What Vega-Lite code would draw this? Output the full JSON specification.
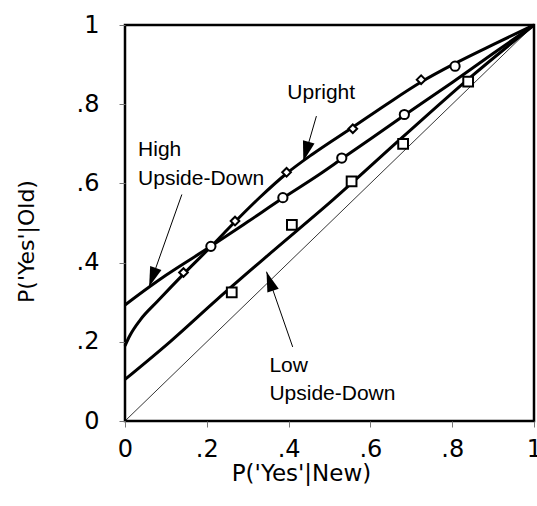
{
  "$schema": "https://vega.github.io/schema/vega-lite/v6.json",
  "width": 409,
  "height": 396,
  "autosize": {"type": "none"},
  "padding": {"left": 125, "top": 25, "right": 3, "bottom": 85},
  "background": "white",
  "config": {
    "font": "Liberation Sans",
    "view": {"stroke": "black", "strokeWidth": 2.5}
  },
  "datasets": {
    "diag": [{"x": 0, "y": 0}, {"x": 1, "y": 1}],
    "curves": [
      {"series": "Upright", "x": 0, "y": 0.19},
      {"series": "Upright", "x": 0.012, "y": 0.216},
      {"series": "Upright", "x": 0.037, "y": 0.255},
      {"series": "Upright", "x": 0.08, "y": 0.303},
      {"series": "Upright", "x": 0.143, "y": 0.371},
      {"series": "Upright", "x": 0.21, "y": 0.44},
      {"series": "Upright", "x": 0.269, "y": 0.503},
      {"series": "Upright", "x": 0.33, "y": 0.565},
      {"series": "Upright", "x": 0.395, "y": 0.625},
      {"series": "Upright", "x": 0.46, "y": 0.675},
      {"series": "Upright", "x": 0.557, "y": 0.742},
      {"series": "Upright", "x": 0.64, "y": 0.8},
      {"series": "Upright", "x": 0.724, "y": 0.856},
      {"series": "Upright", "x": 0.807, "y": 0.903},
      {"series": "Upright", "x": 0.905, "y": 0.953},
      {"series": "Upright", "x": 1, "y": 1},
      {"series": "High Upside-Down", "x": 0, "y": 0.293},
      {"series": "High Upside-Down", "x": 0.06, "y": 0.339},
      {"series": "High Upside-Down", "x": 0.1, "y": 0.368},
      {"series": "High Upside-Down", "x": 0.21, "y": 0.441},
      {"series": "High Upside-Down", "x": 0.3, "y": 0.503},
      {"series": "High Upside-Down", "x": 0.386, "y": 0.563},
      {"series": "High Upside-Down", "x": 0.474, "y": 0.622},
      {"series": "High Upside-Down", "x": 0.53, "y": 0.662},
      {"series": "High Upside-Down", "x": 0.6, "y": 0.712},
      {"series": "High Upside-Down", "x": 0.683, "y": 0.772},
      {"series": "High Upside-Down", "x": 0.8, "y": 0.855},
      {"series": "High Upside-Down", "x": 0.9, "y": 0.928},
      {"series": "High Upside-Down", "x": 1, "y": 1},
      {"series": "Low Upside-Down", "x": 0, "y": 0.105},
      {"series": "Low Upside-Down", "x": 0.11, "y": 0.2},
      {"series": "Low Upside-Down", "x": 0.224, "y": 0.306},
      {"series": "Low Upside-Down", "x": 0.35, "y": 0.419},
      {"series": "Low Upside-Down", "x": 0.509, "y": 0.559},
      {"series": "Low Upside-Down", "x": 0.68, "y": 0.718},
      {"series": "Low Upside-Down", "x": 0.84, "y": 0.864},
      {"series": "Low Upside-Down", "x": 1, "y": 1}
    ],
    "points": [
      {"series": "Upright", "x": 0.143, "y": 0.375},
      {"series": "Upright", "x": 0.269, "y": 0.505},
      {"series": "Upright", "x": 0.395, "y": 0.628},
      {"series": "Upright", "x": 0.557, "y": 0.738},
      {"series": "Upright", "x": 0.724, "y": 0.862},
      {"series": "High Upside-Down", "x": 0.21, "y": 0.441},
      {"series": "High Upside-Down", "x": 0.386, "y": 0.564},
      {"series": "High Upside-Down", "x": 0.53, "y": 0.664},
      {"series": "High Upside-Down", "x": 0.683, "y": 0.774},
      {"series": "High Upside-Down", "x": 0.807, "y": 0.896},
      {"series": "Low Upside-Down", "x": 0.261, "y": 0.325},
      {"series": "Low Upside-Down", "x": 0.408, "y": 0.495},
      {"series": "Low Upside-Down", "x": 0.554, "y": 0.605},
      {"series": "Low Upside-Down", "x": 0.68, "y": 0.7},
      {"series": "Low Upside-Down", "x": 0.839, "y": 0.857}
    ],
    "arrows": [
      {"arrow": "Upright", "x1": 0.468, "y1": 0.77, "x2": 0.436, "y2": 0.656},
      {"arrow": "High", "x1": 0.139, "y1": 0.572, "x2": 0.059, "y2": 0.339},
      {"arrow": "Low", "x1": 0.41, "y1": 0.187, "x2": 0.346, "y2": 0.377}
    ],
    "labels": [
      {"label": "Upright", "x": 0.397, "y": 0.812},
      {"label": "High", "x": 0.032, "y": 0.668},
      {"label": "Upside-Down", "x": 0.032, "y": 0.597},
      {"label": "Low", "x": 0.353, "y": 0.124},
      {"label": "Upside-Down", "x": 0.353, "y": 0.053}
    ]
  },
  "layer": [
    {
      "data": {"name": "diag"},
      "mark": {"type": "line", "color": "black", "strokeWidth": 0.8},
      "encoding": {
        "x": {
          "field": "x", "type": "quantitative",
          "scale": {"domain": [0, 1], "nice": false, "zero": false},
          "axis": {
            "values": [0, 0.2, 0.4, 0.6, 0.8, 1],
            "labelExpr": "datum.value == 0 ? '0' : datum.value == 1 ? '1' : replace(format(datum.value, '.1f'), '0.', '.')",
            "domain": false,
            "grid": false,
            "labelFont": "DejaVu Sans",
            "labelFontSize": 24,
            "labelColor": "black",
            "labelFlush": false,
            "labelOverlap": false,
            "labelBaseline": "top",
            "labelPadding": 10,
            "labelDx": -4,
            "tickColor": "#777777",
            "tickWidth": 1,
            "tickSize": 6,
            "title": "P('Yes'|New)",
            "titleFont": "DejaVu Sans",
            "titleFontSize": 23,
            "titleFontWeight": "normal",
            "titleColor": "black",
            "titleX": 176,
            "titleY": 59,
            "titleAlign": "center",
            "titleBaseline": "alphabetic",
            "titleAnchor": null
          }
        },
        "y": {
          "field": "y", "type": "quantitative",
          "scale": {"domain": [0, 1], "nice": false, "zero": false},
          "axis": {
            "values": [0, 0.2, 0.4, 0.6, 0.8, 1],
            "labelExpr": "datum.value == 0 ? '0' : datum.value == 1 ? '1' : replace(format(datum.value, '.1f'), '0.', '.')",
            "domain": false,
            "grid": false,
            "labelFont": "DejaVu Sans",
            "labelFontSize": 24,
            "labelColor": "black",
            "labelFlush": false,
            "labelOverlap": false,
            "labelPadding": 20,
            "tickColor": "#777777",
            "tickWidth": 1,
            "tickSize": 6,
            "title": "P('Yes'|Old)",
            "titleFont": "DejaVu Sans",
            "titleFontSize": 22,
            "titleFontWeight": "normal",
            "titleColor": "black",
            "titleAngle": 270,
            "titleX": -92,
            "titleY": 216,
            "titleAlign": "center",
            "titleBaseline": "alphabetic"
          }
        }
      }
    },
    {
      "data": {"name": "curves"},
      "mark": {"type": "line", "color": "black", "strokeWidth": 3, "interpolate": "monotone"},
      "encoding": {
        "x": {"field": "x", "type": "quantitative"},
        "y": {"field": "y", "type": "quantitative"},
        "detail": {"field": "series"},
        "order": {"field": "x", "type": "quantitative"}
      }
    },
    {
      "data": {"name": "arrows"},
      "mark": {"type": "rule", "color": "black", "strokeWidth": 1},
      "encoding": {
        "x": {"field": "x1", "type": "quantitative"},
        "y": {"field": "y1", "type": "quantitative"},
        "x2": {"field": "x2"},
        "y2": {"field": "y2"}
      }
    },
    {
      "data": {"name": "arrows"},
      "transform": [{"filter": "datum.arrow == 'Upright'"}],
      "mark": {"type": "point", "shape": "M0,0L0.6,2L-0.6,2Z", "size": 400, "filled": true, "color": "black", "opacity": 1, "angle": 195.7},
      "encoding": {
        "x": {"field": "x2", "type": "quantitative"},
        "y": {"field": "y2", "type": "quantitative"}
      }
    },
    {
      "data": {"name": "arrows"},
      "transform": [{"filter": "datum.arrow == 'High'"}],
      "mark": {"type": "point", "shape": "M0,0L0.6,2L-0.6,2Z", "size": 400, "filled": true, "color": "black", "opacity": 1, "angle": 199.5},
      "encoding": {
        "x": {"field": "x2", "type": "quantitative"},
        "y": {"field": "y2", "type": "quantitative"}
      }
    },
    {
      "data": {"name": "arrows"},
      "transform": [{"filter": "datum.arrow == 'Low'"}],
      "mark": {"type": "point", "shape": "M0,0L0.6,2L-0.6,2Z", "size": 400, "filled": true, "color": "black", "opacity": 1, "angle": 340.9},
      "encoding": {
        "x": {"field": "x2", "type": "quantitative"},
        "y": {"field": "y2", "type": "quantitative"}
      }
    },
    {
      "data": {"name": "points"},
      "mark": {"type": "point", "filled": true, "fill": "white", "stroke": "black", "strokeWidth": 2, "opacity": 1},
      "encoding": {
        "x": {"field": "x", "type": "quantitative"},
        "y": {"field": "y", "type": "quantitative"},
        "shape": {
          "field": "series", "type": "nominal",
          "scale": {"domain": ["Upright", "High Upside-Down", "Low Upside-Down"], "range": ["diamond", "circle", "square"]},
          "legend": null
        },
        "size": {
          "field": "series", "type": "nominal",
          "scale": {"domain": ["Upright", "High Upside-Down", "Low Upside-Down"], "range": [75, 95, 120]},
          "legend": null
        }
      }
    },
    {
      "data": {"name": "labels"},
      "mark": {"type": "text", "align": "left", "baseline": "alphabetic", "fontSize": 21, "font": "Liberation Sans", "color": "black"},
      "encoding": {
        "x": {"field": "x", "type": "quantitative"},
        "y": {"field": "y", "type": "quantitative"},
        "text": {"field": "label"}
      }
    }
  ]
}
